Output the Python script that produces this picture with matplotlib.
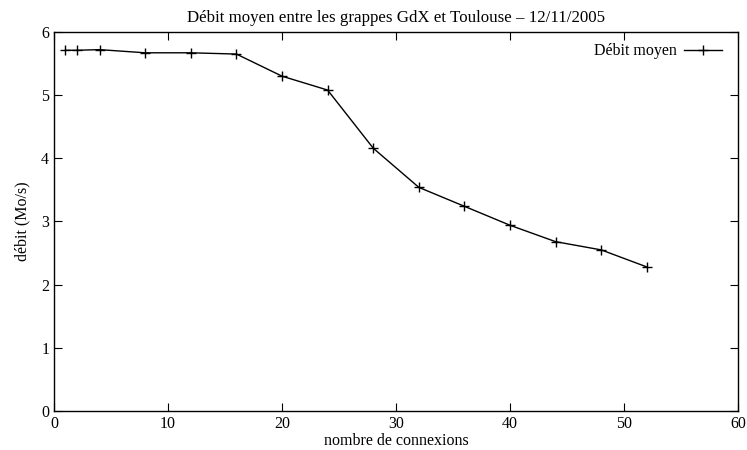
import matplotlib.pyplot as plt

plt.rcParams["font.family"] = ["Liberation Serif", "DejaVu Serif"]
plt.rcParams["font.size"] = 11.5

connexions = [1, 2, 4, 8, 12, 16, 20, 24, 28, 32, 36, 40, 44, 48, 52]
debit = [5.71, 5.71, 5.72, 5.67, 5.67, 5.65, 5.30, 5.08, 4.16, 3.54, 3.24, 2.94, 2.68, 2.55, 2.28]

fig = plt.figure(figsize=(7.47, 4.5), dpi=100)
ax = fig.add_axes([0.0723, 0.0867, 0.9157, 0.8423])

ax.plot(connexions, debit, color="black", linewidth=1.0, marker="+",
        markersize=7, markeredgewidth=1.0, label="Débit moyen")

ax.set_xlim(0, 60)
ax.set_ylim(0, 6)
ax.set_xticks(range(0, 61, 10))
ax.set_yticks(range(0, 7))
ax.tick_params(direction="in", top=True, right=True, length=6, width=0.8, labelsize=11.5)
for s in ax.spines.values():
    s.set_linewidth(1.0)

ax.set_title("Débit moyen entre les grappes GdX et Toulouse – 12/11/2005", fontsize=12.2, pad=7)
ax.set_xlabel("nombre de connexions", fontsize=11.5, labelpad=1)
ax.set_ylabel("débit (Mo/s)", fontsize=11.5, labelpad=8)

ax.legend(loc="upper right", bbox_to_anchor=(0.993, 1.0), frameon=False,
          markerfirst=False, fontsize=11.5, handlelength=2.4, handletextpad=0.4,
          borderaxespad=0.3)

fig.savefig("out.png", dpi=100)
